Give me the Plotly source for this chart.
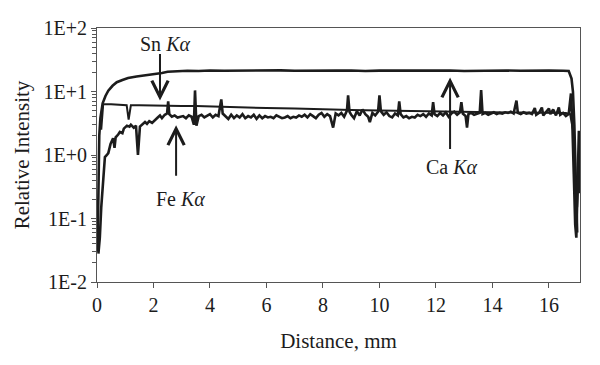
import math
import plotly.graph_objects as go

# ---- data ----
sn_x = [0.02, 0.05, 0.08, 0.12, 0.2, 0.3, 0.4, 0.55, 0.7, 0.9, 1.1, 1.4, 1.7, 2.0, 2.3, 2.5, 2.8,
        3.2, 3.6, 4.0, 4.5, 5.0, 5.5, 6.0, 6.5, 7.0, 7.5, 8.0, 8.5, 9.0, 9.5, 10.0, 10.5, 11.0,
        11.5, 12.0, 12.5, 13.0, 13.5, 14.0, 14.5, 15.0, 15.5, 16.0, 16.5, 16.7, 16.8, 16.85,
        16.9, 16.93, 16.97, 17.0]
sn_y = [0.03, 0.5, 2.0, 3.8, 6.5, 8.5, 10.3, 12.3, 14.0, 15.2, 16.3, 17.2, 17.9, 18.5, 19.6, 20.5, 20.8,
        21.2, 21.0, 21.4, 21.2, 21.4, 21.1, 21.3, 21.5, 21.2, 21.4, 21.1, 21.3, 21.4, 21.0, 21.3, 21.4, 21.1,
        21.3, 21.2, 21.4, 21.0, 21.3, 21.1, 21.4, 21.2, 21.0, 21.3, 21.2, 21.0, 16.0, 10.0,
        3.0, 0.8, 0.1, 0.06]

ca_x = [0.15, 0.22, 0.5, 0.8, 1.05, 1.12, 1.2, 1.5, 2.0, 2.5, 3.0, 3.5, 4.0, 5.0, 6.0, 7.0, 8.0,
        9.0, 10.0, 11.0, 12.0, 13.0, 14.0, 15.0, 16.0, 16.6, 16.75, 16.85, 16.92, 17.0, 17.05, 17.08]
ca_y = [2.5, 6.3, 6.3, 6.2, 6.1, 3.6, 6.1, 6.1, 6.0, 6.0, 5.9, 5.9, 5.8, 5.7, 5.5, 5.4, 5.2,
        5.1, 5.0, 4.9, 4.8, 4.75, 4.7, 4.65, 4.6, 4.6, 4.4, 2.5, 0.5, 0.15, 0.5, 1.8]

fe_x = [0.05, 0.1, 0.15, 0.18, 0.22, 0.28, 0.35, 0.4, 0.48, 0.57, 0.62, 0.66, 0.75, 0.81, 0.9, 0.95,
        1.06, 1.15, 1.2, 1.3, 1.38, 1.45, 1.52, 1.6, 1.7, 1.77, 1.85, 1.95, 2.05, 2.15, 2.23, 2.3,
        2.4, 2.48, 2.52, 2.56, 2.65, 2.75, 2.85, 2.94, 3.05, 3.15, 3.25, 3.35, 3.43, 3.47, 3.52, 3.6,
        3.7, 3.8, 3.9, 4.0, 4.1, 4.2, 4.3, 4.4, 4.45, 4.55, 4.65, 4.75, 4.85, 4.95, 5.05, 5.15,
        5.25, 5.35, 5.45, 5.55, 5.65, 5.75, 5.85, 5.95, 6.05, 6.15, 6.25, 6.35, 6.45, 6.55, 6.65,
        6.75, 6.85, 6.95, 7.05, 7.15, 7.25, 7.35, 7.45, 7.55, 7.65, 7.75, 7.85, 7.95, 8.05, 8.15,
        8.25, 8.36, 8.45, 8.55, 8.65, 8.75, 8.85, 8.89, 8.94, 9.0, 9.1, 9.2, 9.3, 9.4, 9.5, 9.6,
        9.66, 9.75, 9.85, 9.95, 10.0, 10.05, 10.15, 10.25, 10.35, 10.45, 10.55, 10.65, 10.7, 10.75,
        10.85, 10.95, 11.05, 11.15, 11.25, 11.35, 11.45, 11.55, 11.65, 11.75, 11.85, 11.9, 11.95,
        12.05, 12.15, 12.25, 12.35, 12.45, 12.55, 12.65, 12.75, 12.85, 12.9, 12.95, 13.05, 13.1,
        13.15, 13.25, 13.35, 13.45, 13.55, 13.6, 13.65, 13.75, 13.85, 13.95, 14.05, 14.15, 14.25,
        14.35, 14.45, 14.55, 14.65, 14.75, 14.85, 14.9, 15.0, 15.1, 15.2, 15.3, 15.4, 15.5, 15.55,
        15.65, 15.75, 15.8, 15.9, 16.0, 16.05, 16.15, 16.25, 16.35, 16.4, 16.5, 16.6, 16.7, 16.78,
        16.83, 16.88, 16.93, 16.97, 17.02, 17.06, 17.09]
fe_y = [0.028, 0.05, 0.15, 0.22, 0.5, 0.93, 1.0, 1.07, 1.5, 1.84, 1.3, 1.9, 2.1, 2.3, 2.2, 2.6,
        2.9, 2.8, 3.0, 2.7, 2.9, 1.0, 2.8, 3.0, 3.3, 3.1, 3.4, 3.2, 3.6, 3.9, 4.2, 3.8,
        4.3, 4.5, 7.0, 4.4, 4.0, 4.2, 3.9, 4.0, 4.1, 3.8, 4.2, 4.0, 3.0, 10.4, 2.9, 4.1,
        4.3, 3.9, 4.2, 4.4, 3.9, 4.3, 4.1, 7.5, 4.5, 4.0, 3.7, 4.3, 3.8, 4.2, 3.9, 4.4,
        3.8, 4.1, 3.9, 4.3, 3.7, 4.2, 3.8, 4.1, 3.9, 4.0, 3.8, 4.2, 4.0, 3.8, 3.9,
        4.1, 3.8, 4.0, 3.9, 4.2, 4.0, 4.3, 3.9, 4.4, 4.1, 3.8, 4.3, 4.6, 4.0, 4.4,
        4.1, 2.7, 4.5, 4.2, 4.6, 4.0, 5.0, 8.7, 4.8, 4.3, 3.8, 4.9, 4.2, 5.2, 4.4, 4.0,
        3.3, 4.6, 4.2, 4.8, 8.7, 4.9, 4.3, 4.7, 4.1, 3.9, 4.5, 4.2, 7.0, 4.4,
        3.9, 4.1, 3.8, 4.0, 3.9, 4.3, 4.1, 4.4, 4.0, 4.5, 4.2, 6.8, 4.4,
        4.1, 4.6, 4.2, 4.7, 4.0, 4.5, 4.8, 4.3, 4.7, 6.8, 4.5, 4.1, 2.7,
        4.4, 4.6, 4.3, 4.5, 4.6, 10.5, 4.4, 4.6, 4.3, 4.5, 4.7, 4.4, 4.6,
        4.5, 4.7, 4.6, 4.8, 4.5, 7.2, 4.6, 4.4, 4.7, 4.5, 4.6, 4.4, 5.5, 4.3,
        4.6, 5.6, 4.2, 4.8, 5.4, 4.4, 5.2, 4.2, 5.6, 4.3, 4.6, 4.1, 4.4, 9.3,
        3.0, 0.5, 0.08, 0.05, 0.6, 2.4, 0.25]

x_ticks = [0, 2, 4, 6, 8, 10, 12, 14, 16]
y_tickvals = [0.01, 0.1, 1, 10, 100]
y_ticktext = ["1E-2", "1E-1", "1E+0", "1E+1", "1E+2"]

# label anchors: (text, x mm, intensity)
labels = [("Sn <i>K\u03b1</i>", 2.42, 56.0),
          ("Fe <i>K\u03b1</i>", 2.97, 0.2),
          ("Ca <i>K\u03b1</i>", 12.57, 0.65)]
# arrows: (x mm, tip intensity, tail offset px)
arrows = [(2.23, 7.2, -48), (2.8, 2.94, 52), (12.5, 16.6, 73)]

INK = "#1c1c1c"
AX = "#555555"
FONT = "Liberation Serif, Times New Roman, serif"

fig = go.Figure()
fig.add_trace(go.Scatter(x=sn_x, y=sn_y, mode="lines", line=dict(color=INK, width=2.6), name="Sn"))
fig.add_trace(go.Scatter(x=ca_x, y=ca_y, mode="lines", line=dict(color=INK, width=2.0), name="Ca"))
fig.add_trace(go.Scatter(x=fe_x, y=fe_y, mode="lines", line=dict(color=INK, width=2.6), name="Fe"))

for text, xv, yv in labels:
    fig.add_annotation(x=xv, y=math.log10(yv), xref="x", yref="y", text=text, showarrow=False,
                       font=dict(family=FONT, size=20, color=INK))
for xv, yv, off in arrows:
    fig.add_annotation(x=xv, y=math.log10(yv), xref="x", yref="y", text="", showarrow=True,
                       ax=0, ay=off, arrowhead=5, arrowsize=1.6, arrowwidth=2, arrowcolor=INK,
                       standoff=0)

# page body has an 8px offset; margins compensate so the plot box lands where the reference has it
fig.update_layout(
    width=600, height=365,
    margin=dict(l=89, r=28, t=20, b=91),
    paper_bgcolor="white", plot_bgcolor="white",
    showlegend=False,
    font=dict(family=FONT, size=20, color=INK),
)
fig.update_xaxes(range=[0, 17.1], tickvals=x_ticks, ticks="outside", ticklen=5, tickwidth=1,
                 tickcolor=AX, showline=True, linecolor=AX, linewidth=1, mirror=True,
                 showgrid=False, zeroline=False, automargin=False,
                 title=dict(text="Distance, mm", font=dict(family=FONT, size=21), standoff=18),
                 tickfont=dict(family=FONT, size=20))
fig.update_yaxes(type="log", range=[-2, 2], tickvals=y_tickvals, ticktext=y_ticktext,
                 ticks="outside", ticklen=5, tickwidth=1, tickcolor=AX,
                 minor=dict(tickmode="linear", tick0=0, dtick="D1", ticks="outside", ticklen=4,
                            tickcolor=AX, showgrid=False),
                 showline=True, linecolor=AX, linewidth=1, mirror=True,
                 showgrid=False, zeroline=False, automargin=False,
                 title=dict(text="Relative Intensity", font=dict(family=FONT, size=21), standoff=8),
                 tickfont=dict(family=FONT, size=20))

fig.write_html("out.html")
